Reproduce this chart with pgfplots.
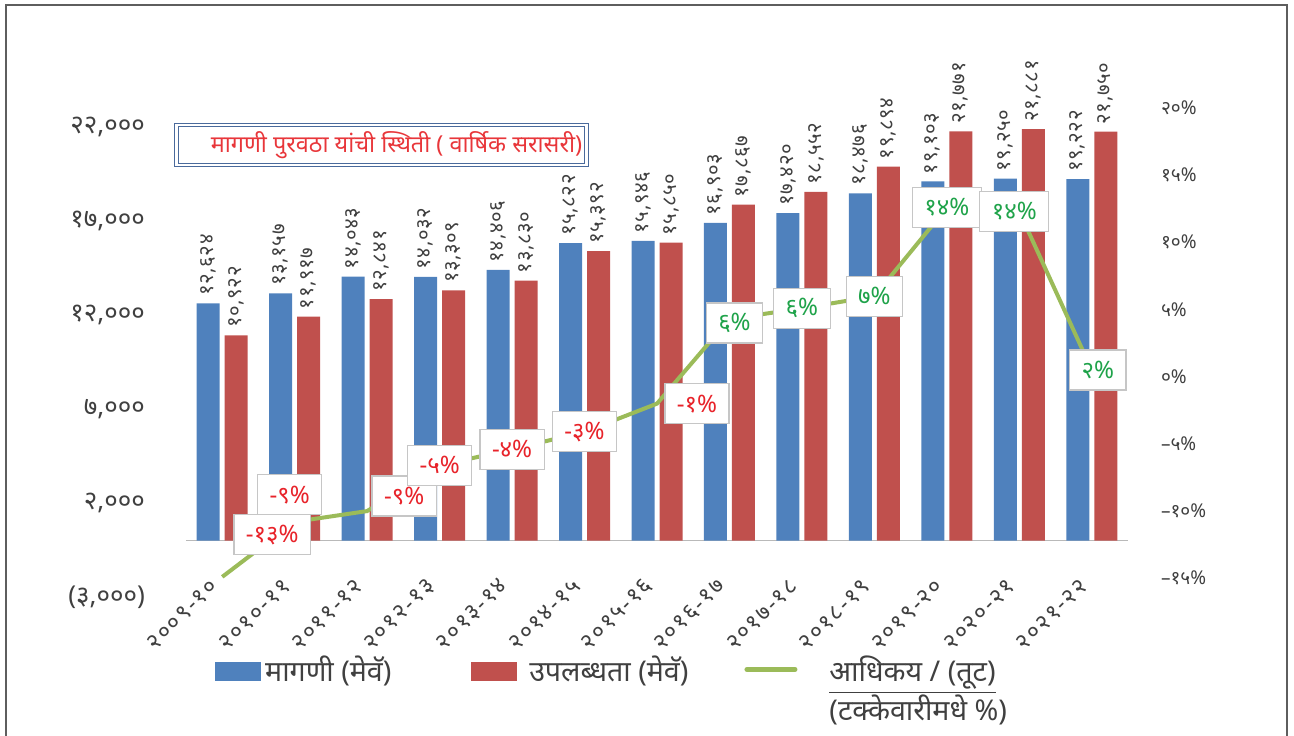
\documentclass[border=0pt]{standalone}
\usepackage{pgfplots}
\pgfplotsset{compat=1.18}
\usepackage{pgfplotstable}
\usepackage{fontspec}
\setmainfont[Script=Devanagari]{Noto Sans}
\newfontfamily\barnum[Script=Devanagari, LetterSpace=3]{Noto Sans}
\newfontfamily\xnum[Script=Devanagari, LetterSpace=8]{Noto Sans}
\definecolor{cblue}{HTML}{4F81BD}
\definecolor{cred}{HTML}{C0504D}
\definecolor{lgreen}{HTML}{9BBB59}
\definecolor{lneg}{HTML}{E8232A}
\definecolor{lpos}{HTML}{1FA34A}
\definecolor{titred}{HTML}{E8363A}
\definecolor{titblue}{HTML}{4A6A9C}
\definecolor{tgray}{HTML}{404040}
\definecolor{framegray}{HTML}{5E5E5E}

\pgfplotstableread{
x y lab
0 12624 १२,६२४
1 13157 १३,१५७
2 14043 १४,०४३
3 14032 १४,०३२
4 14406 १४,४०६
5 15822 १५,८२२
6 15946 १५,९४६
7 16903 १६,९०३
8 17420 १७,४२०
9 18476 १८,४७६
10 19103 १९,१०३
11 19250 १९,२५०
12 19222 १९,२२२
}\demand

\pgfplotstableread{
x y lab
0 10922 १०,९२२
1 11917 ११,९१७
2 12841 १२,८४१
3 13309 १३,३०९
4 13830 १३,८३०
5 15392 १५,३९२
6 15850 १५,८५०
7 17867 १७,८६७
8 18552 १८,५५२
9 19894 १९,८९४
10 21771 २१,७७१
11 21881 २१,८८१
12 21750 २१,७५०
}\supply

\pgfplotstableread{
x y lab dx dy neg
0 -13.5 -१३ 25 21 100
1 -9.4 -९ -2.5 13.5 100
2 -8.6 -९ 18.5 7.5 100
3 -5.2 -५ 0 0 100
4 -4.0 -४ 0 0 100
5 -2.7 -३ 0 0 100
6 -0.6 -१ 20 0 100
7 5.7 ६ 2.5 -2 0
8 6.5 ६ 0 0 0
9 7.4 ७ 0 0 0
10 14.0 १४ 0 0 0
11 13.7 १४ -2.5 0 0
12 1.9 २ 3 0 0
}\gap

\begin{document}
\begin{tikzpicture}
\pgfplotsset{
  base/.style={
    scale only axis, width=471pt, height=235pt,
    xmin=-0.5, xmax=12.5, clip=false,
    axis line style={draw=none}, major tick length=0pt,
    scaled y ticks=false,
  }
}
\begin{axis}[base,
  ymin=-3000, ymax=22000,
  ytick={-3000,2000,7000,12000,17000,22000},
  yticklabels={{(३,०००)},{२,०००},{७,०००},{१२,०००},{१७,०००},{२२,०००}},
  yticklabel style={font=\fontsize{13}{15}\selectfont, text=tgray, xshift=-17pt},
  xtick={0,...,12},
  xticklabels={२००९-१०,२०१०-११,२०११-१२,२०१२-१३,२०१३-१४,२०१४-१५,२०१५-१६,२०१६-१७,२०१७-१८,२०१८-१९,२०१९-२०,२०२०-२१,२०२१-२२},
  xticklabel style={font=\xnum\fontsize{11.5}{13}\selectfont, text=tgray, xshift=-1.5pt, yshift=9.5pt, rotate=45, anchor=east},
  extra y ticks={0}, extra y tick labels={},
  extra y tick style={grid=major, major grid style={draw=gray!55, line width=0.8pt}},
]
\addplot[ybar, bar width=11.5pt, bar shift=-7pt, fill=cblue, draw=none,
  nodes near coords, point meta=explicit symbolic,
  nodes near coords style={xshift=-7pt, yshift=2.5pt, rotate=90, anchor=west, inner sep=1pt, font=\barnum\fontsize{10.2}{12}\selectfont, text=tgray}]
  table[x=x, y=y, meta=lab]{\demand};
\addplot[ybar, bar width=11.5pt, bar shift=7pt, fill=cred, draw=none,
  nodes near coords, point meta=explicit symbolic,
  nodes near coords style={xshift=7pt, yshift=2.5pt, rotate=90, anchor=west, inner sep=1pt, font=\barnum\fontsize{10.2}{12}\selectfont, text=tgray}]
  table[x=x, y=y, meta=lab]{\supply};
\end{axis}

\begin{axis}[base,
  ymin=-15, ymax=20,
  axis y line*=right, axis x line=none,
  ytick={-15,-10,...,20},
  yticklabels={–१५\%,–१०\%,–५\%,०\%,५\%,१०\%,१५\%,२०\%},
  yticklabel style={font=\fontsize{9.5}{11}\selectfont, text=tgray, anchor=west, xshift=13pt, yshift=9.5pt},
  legend columns=3,
  legend cell align=left,
  legend style={at={(0.0244,-0.108)}, anchor=north west, draw=none, fill=none,
    font=\fontsize{14.3}{17}\selectfont, text=tgray,
    /tikz/every even column/.append style={column sep=38pt}},
]
\addlegendimage{legend image code/.code={\fill[cblue] (0pt,-5pt) rectangle (22.5pt,4pt);}}
\addlegendentry{मागणी (मेवॅ)}
\addlegendimage{legend image code/.code={\fill[cred] (0pt,-5pt) rectangle (22.5pt,4pt);}}
\addlegendentry{\hspace*{4pt}उपलब्धता (मेवॅ)\hspace*{-12pt}}
\addlegendimage{legend image code/.code={\draw[lgreen, line width=2.5pt, line cap=round] (0pt,0.5pt) -- (24pt,0.5pt);}}
\addlegendentry{\hspace*{14pt}\begin{tabular}[t]{@{}l@{}}\underline{आधिकय / (तूट)}\\[1.5pt](टक्केवारीमधे \%)\end{tabular}}

\addplot[forget plot, lgreen, line width=2pt, mark=none,
  nodes near coords={\pgfplotspointmeta\%}, point meta=explicit symbolic,
  visualization depends on={\thisrow{dx}\as\lbdx},
  visualization depends on={\thisrow{dy}\as\lbdy},
  visualization depends on={\thisrow{neg}\as\lbneg},
  nodes near coords style={anchor=center, fill=white, draw=gray!45, line width=0.6pt,
    inner xsep=6pt, minimum height=20pt, text=lneg!\lbneg!lpos,
    font=\fontsize{12}{14}\selectfont\bfseries, xshift=\lbdx pt, yshift=\lbdy pt}]
  table[x=x, y=y, meta=lab]{\gap};
\end{axis}

\node[draw=titblue, line width=0.6pt, double=white, double distance=1.2pt,
  minimum width=205pt, minimum height=20pt, inner sep=0pt,
  text=titred, font=\fontsize{11.7}{14}\selectfont] at (97.75pt,226pt)
  {\hspace*{15pt}मागणी पुरवठा यांची स्थिती ( वार्षिक सरासरी)};

\draw[framegray, line width=1pt] (-90pt,-70pt) -- (-90pt,296pt) -- (550.5pt,296pt) -- (550.5pt,-70pt);

\pgfresetboundingbox
\path[use as bounding box] (-93pt,-69pt) rectangle (554pt,298.5pt);
\end{tikzpicture}
\end{document}
